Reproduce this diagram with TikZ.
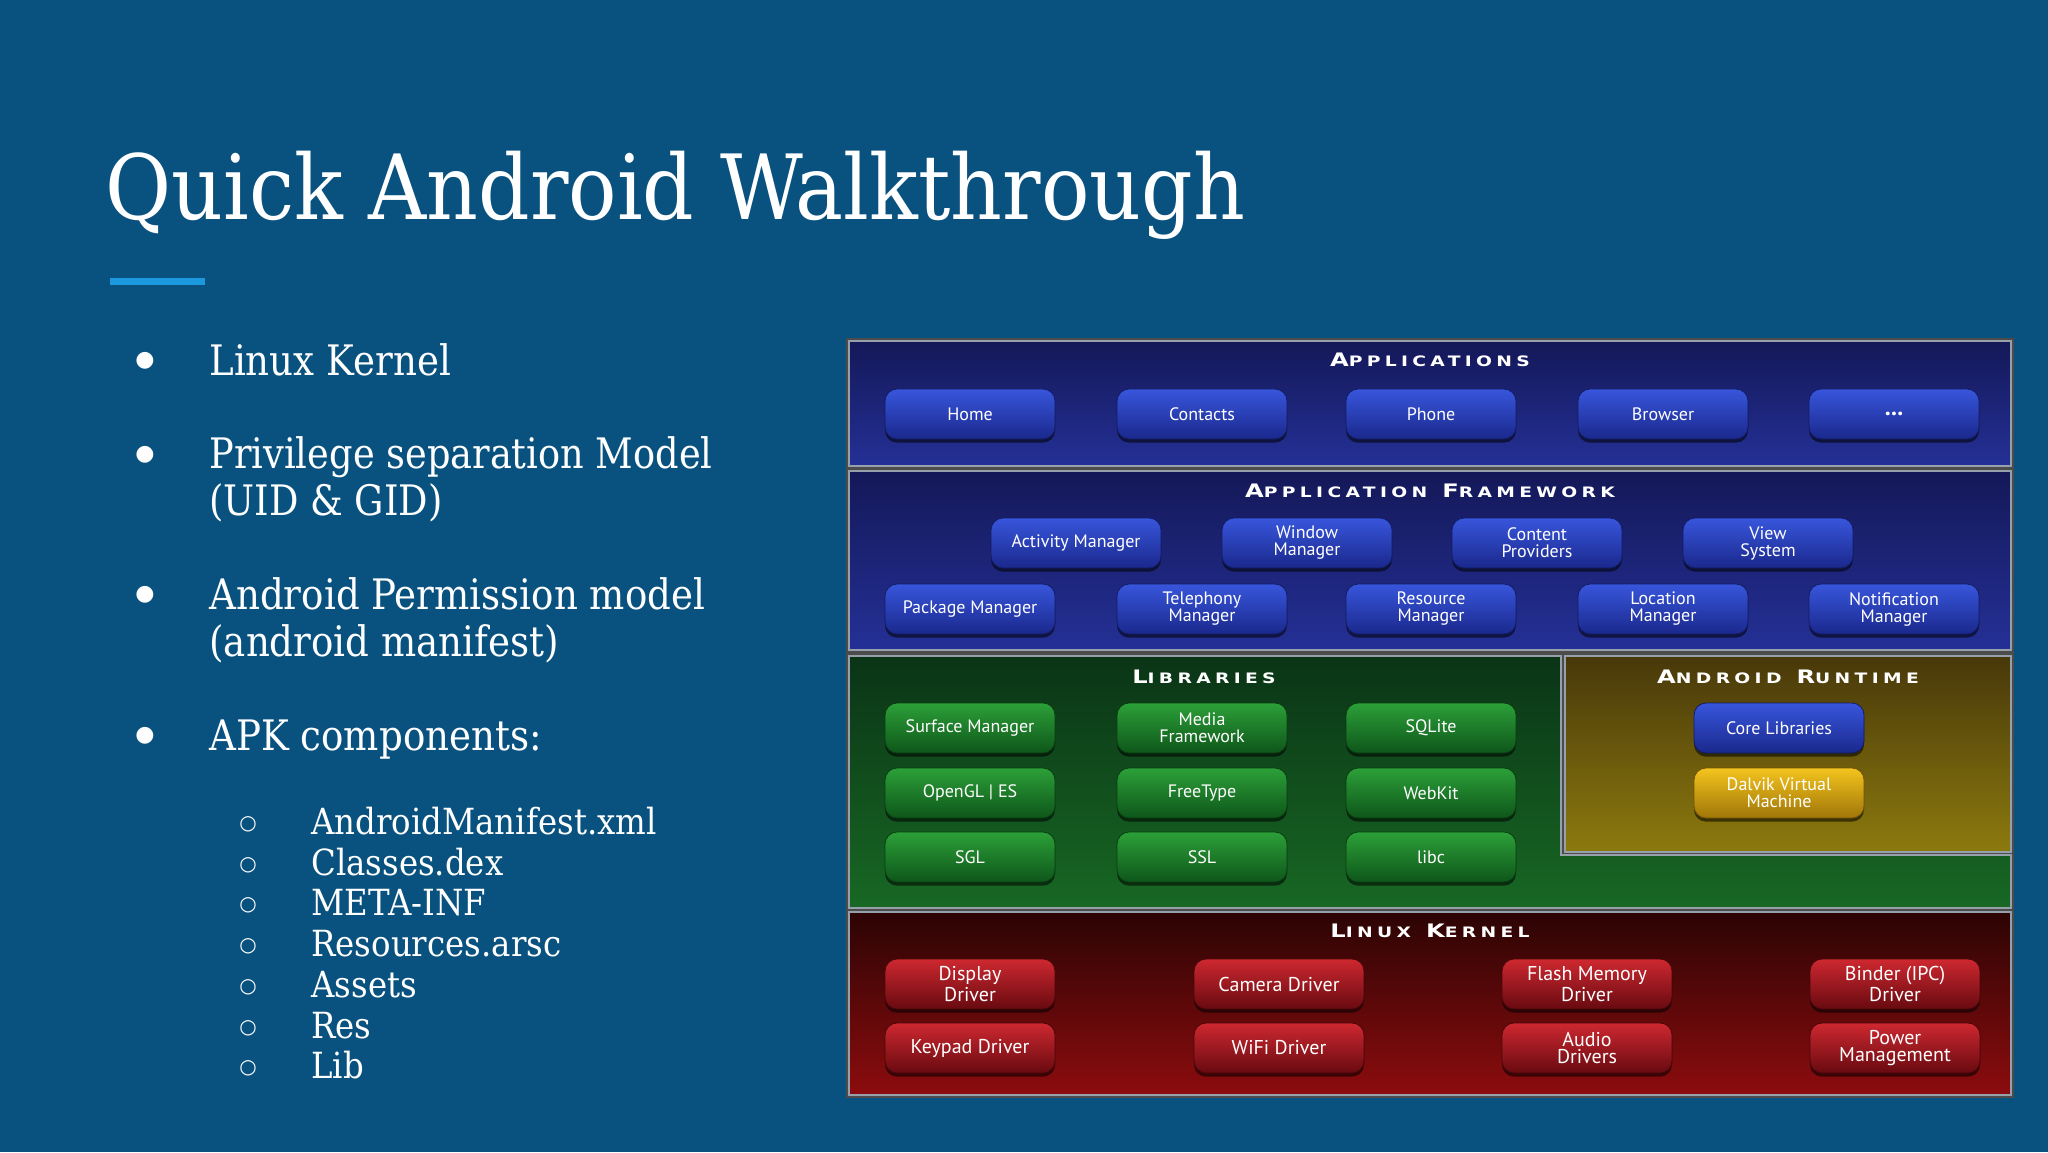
\documentclass[tikz,border=0pt]{standalone}
\usepackage{fontspec}
\usepackage{graphicx}
\setmainfont{DejaVu Serif}
\newfontfamily\btnfont{PT Sans}
\newfontfamily\capfont{DejaVu Sans}[FakeStretch=1.3,LetterSpace=30]
\newfontfamily\symfont{DejaVu Sans}
\usetikzlibrary{shadows}
\definecolor{slidebg}{RGB}{9,82,127}
\definecolor{accent}{RGB}{28,152,222}
\definecolor{apptop}{RGB}{20,24,88}
\definecolor{appbot}{RGB}{36,48,150}
\definecolor{bluetop}{RGB}{56,86,220}
\definecolor{bluebot}{RGB}{26,40,140}
\definecolor{libtop}{RGB}{10,52,22}
\definecolor{libbot}{RGB}{24,104,36}
\definecolor{greentop}{RGB}{44,160,56}
\definecolor{greenbot}{RGB}{14,86,26}
\definecolor{rttop}{RGB}{72,56,10}
\definecolor{rtbot}{RGB}{140,122,14}
\definecolor{yeltop}{RGB}{244,196,30}
\definecolor{yelbot}{RGB}{160,118,8}
\definecolor{kertop}{RGB}{44,4,4}
\definecolor{kerbot}{RGB}{140,12,14}
\definecolor{redtop}{RGB}{206,40,48}
\definecolor{redbot}{RGB}{104,10,16}
\definecolor{layerline}{RGB}{150,160,170}
\newcommand\lsc[2]{{\fontsize{9.3}{9}\selectfont #1}{\fontsize{7.2}{7}\selectfont #2}}
\begin{document}
\begin{tikzpicture}[x=0.5pt,y=-0.5pt,
  every node/.style={inner sep=0pt},
  titletxt/.style={anchor=base west, text=white, font=\fontsize{45}{45}\selectfont},
  btxt/.style={anchor=base west, text=white, font=\fontsize{21}{21}\selectfont},
  stxt/.style={anchor=base west, text=white, font=\fontsize{18}{18}\selectfont},
  bdot/.style={text=white, font=\symfont\fontsize{11}{11}\selectfont},
  sdot/.style={text=white, font=\symfont\fontsize{10}{10}\selectfont},
  layer/.style={draw=layerline, line width=1.2pt},
  laytitle/.style={text=white, font=\capfont\bfseries},
  btn/.style={rounded corners=6pt, minimum width=85pt, minimum height=25pt,
    align=center, text=white, line width=0.4pt,
    font=\btnfont\fontsize{9}{8.5}\selectfont,
    drop shadow={opacity=0.55, fill=black, shadow xshift=0pt, shadow yshift=-1.8pt}},
  bluebtn/.style={btn, top color=bluetop, bottom color=bluebot, draw=bluebot!70!black},
  greenbtn/.style={btn, top color=greentop, bottom color=greenbot, draw=greenbot!70!black},
  yelbtn/.style={btn, top color=yeltop, bottom color=yelbot, draw=yelbot!70!black},
  redbtn/.style={btn, top color=redtop, bottom color=redbot, draw=redbot!70!black,
    font=\btnfont\fontsize{10}{8.8}\selectfont}
]
\fill[slidebg] (0,0) rectangle (2048,1152);
\useasboundingbox (0,0) rectangle (2048,1152);

% title
\node[titletxt] (title) at (105,219) {\scalebox{0.895}[1]{Quick Android Walkthrough}};
\fill[accent] (110,278) rectangle (205,285);

% bullets
\node[bdot] (d1) at (145,361) {●};
\node[btxt] (t1) at (209,375) {\scalebox{0.885}[1]{Linux Kernel}};
\node[bdot] (d2) at (145,455) {●};
\node[btxt] (t2) at (209,468) {\scalebox{0.875}[1]{Privilege separation Model}};
\node[btxt] (t2b) at (209,515) {\scalebox{0.875}[1]{(UID \& GID)}};
\node[bdot] (d3) at (145,595) {●};
\node[btxt] (t3) at (209,609) {\scalebox{0.885}[1]{Android Permission model}};
\node[btxt] (t3b) at (209,656) {\scalebox{0.885}[1]{(android manifest)}};
\node[bdot] (d4) at (145,736) {●};
\node[btxt] (t4) at (209,750) {\scalebox{0.885}[1]{APK components:}};

\node[sdot] (s1) at (248,824) {○};
\node[stxt] (u1) at (311,834) {\scalebox{0.9}[1]{AndroidManifest.xml}};
\node[sdot] (s2) at (248,865) {○};
\node[stxt] (u2) at (311,875) {\scalebox{0.9}[1]{Classes.dex}};
\node[sdot] (s3) at (248,905) {○};
\node[stxt] (u3) at (311,915) {\scalebox{0.9}[1]{META-INF}};
\node[sdot] (s4) at (248,946) {○};
\node[stxt] (u4) at (311,956) {\scalebox{0.9}[1]{Resources.arsc}};
\node[sdot] (s5) at (248,987) {○};
\node[stxt] (u5) at (311,997) {\scalebox{0.9}[1]{Assets}};
\node[sdot] (s6) at (248,1028) {○};
\node[stxt] (u6) at (311,1038) {\scalebox{0.9}[1]{Res}};
\node[sdot] (s7) at (248,1068) {○};
\node[stxt] (u7) at (311,1078) {\scalebox{0.9}[1]{Lib}};

% ---------- diagram layers ----------
\fill[black!70] (846,338) rectangle (2014,1098);
\shade[layer, top color=apptop, bottom color=appbot] (849,341) rectangle (2011,466);
\shade[layer, top color=apptop, bottom color=appbot] (849,471) rectangle (2011,650);
\shade[layer, top color=libtop, bottom color=libbot]
  (849,656) -- (1561,656) -- (1561,855) -- (2011,855) -- (2011,908) -- (849,908) -- cycle;
\shade[layer, top color=rttop, bottom color=rtbot] (1565,656) rectangle (2011,852);
\shade[layer, top color=kertop, bottom color=kerbot] (849,912) rectangle (2011,1095);

% layer titles
\node[laytitle] (appt) at (1430,360) {\lsc{A}{PPLICATIONS}};
\node[laytitle] (fwt) at (1430,491) {\lsc{A}{PPLICATION}\ \lsc{F}{RAMEWORK}};
\node[laytitle] (libt) at (1204,677) {\lsc{L}{IBRARIES}};
\node[laytitle] (rtt) at (1788,677) {\lsc{A}{NDROID}\ \lsc{R}{UNTIME}};
\node[laytitle] (kert) at (1430,931) {\lsc{L}{INUX}\ \lsc{K}{ERNEL}};

% applications
\node[bluebtn] (a1) at (970,414) {Home};
\node[bluebtn] (a2) at (1202,414) {Contacts};
\node[bluebtn] (a3) at (1431,414) {Phone};
\node[bluebtn] (a4) at (1663,414) {Browser};
\node[bluebtn, font=\btnfont\bfseries\fontsize{12}{12}\selectfont] (a5) at (1894,414) {...};

% framework
\node[bluebtn] (f1) at (1076,543) {Activity Manager};
\node[bluebtn] (f2) at (1307,543) {Window\\Manager};
\node[bluebtn] (f3) at (1537,543) {Content\\Providers};
\node[bluebtn] (f4) at (1768,543) {View\\System};
\node[bluebtn] (f5) at (970,609) {Package Manager};
\node[bluebtn] (f6) at (1202,609) {Telephony\\Manager};
\node[bluebtn] (f7) at (1431,609) {Resource\\Manager};
\node[bluebtn] (f8) at (1663,609) {Location\\Manager};
\node[bluebtn] (f9) at (1894,609) {Notification\\Manager};

% libraries
\node[greenbtn] (l1) at (970,728) {Surface Manager};
\node[greenbtn] (l2) at (1202,728) {Media\\Framework};
\node[greenbtn] (l3) at (1431,728) {SQLite};
\node[greenbtn] (l4) at (970,793) {OpenGL | ES};
\node[greenbtn] (l5) at (1202,793) {FreeType};
\node[greenbtn] (l6) at (1431,793) {WebKit};
\node[greenbtn] (l7) at (970,857) {SGL};
\node[greenbtn] (l8) at (1202,857) {SSL};
\node[greenbtn] (l9) at (1431,857) {libc};

% runtime
\node[bluebtn] (r1) at (1779,728) {Core Libraries};
\node[yelbtn] (r2) at (1779,793) {Dalvik Virtual\\Machine};

% kernel
\node[redbtn] (k1) at (970,984) {Display\\Driver};
\node[redbtn] (k2) at (1279,984) {Camera Driver};
\node[redbtn] (k3) at (1587,984) {Flash Memory\\Driver};
\node[redbtn] (k4) at (1895,984) {Binder (IPC)\\Driver};
\node[redbtn] (k5) at (970,1048) {Keypad Driver};
\node[redbtn] (k6) at (1279,1048) {WiFi Driver};
\node[redbtn] (k7) at (1587,1048) {Audio\\Drivers};
\node[redbtn] (k8) at (1895,1048) {Power\\Management};
\end{tikzpicture}
\end{document}
